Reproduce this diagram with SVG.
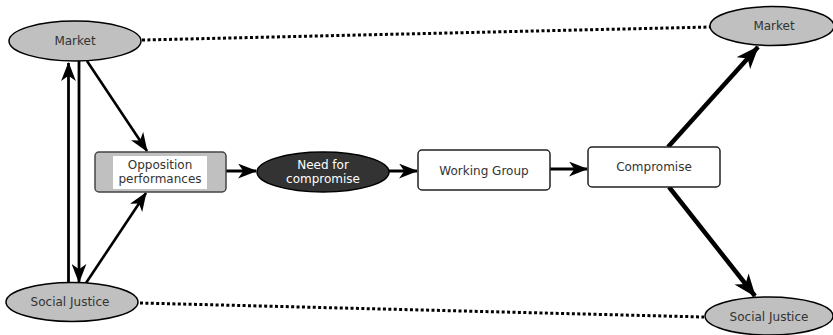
<svg xmlns="http://www.w3.org/2000/svg" width="833" height="335" viewBox="0 0 833 335">
<defs>
<marker id="ah" viewBox="0 0 18 14" refX="17" refY="7" markerWidth="19" markerHeight="15" orient="auto" markerUnits="userSpaceOnUse">
<path d="M0,0 L18,7 L0,14 L5,7 z" fill="#000"/>
</marker>
<marker id="ahs" viewBox="0 0 18 14" refX="17" refY="7" markerWidth="23" markerHeight="18" orient="auto" markerUnits="userSpaceOnUse">
<path d="M0,0 L18,7 L0,14 L5,7 z" fill="#000"/>
</marker>
<style>
text{font-family:"DejaVu Sans","Noto Sans",sans-serif;font-size:12px;fill:#333;text-anchor:middle;}
.grey{fill:#c0c0c0;stroke:#000;stroke-width:1.5;}
.box{fill:#fff;stroke:#222;stroke-width:1.5;}
.dot{stroke:#000;stroke-width:3;stroke-dasharray:3 2.4;fill:none;}
.a{stroke:#000;fill:none;}
</style>
</defs>
<g id="connectors">
<path class="dot" d="M142,40 L710,27"/>
<path class="dot" d="M140,303 L704,317"/>
<path class="a" stroke-width="2.8" d="M68.5,283 L68.5,63" marker-end="url(#ah)"/>
<path class="a" stroke-width="2.8" d="M79,61 L79,282" marker-end="url(#ah)"/>
<path class="a" stroke-width="2.6" d="M87,61 L147,151" marker-end="url(#ah)"/>
<path class="a" stroke-width="2.6" d="M86,283 L146,193" marker-end="url(#ah)"/>
<path class="a" stroke-width="3" d="M226,171 L256,171" marker-end="url(#ah)"/>
<path class="a" stroke-width="3" d="M389,171 L417,171" marker-end="url(#ah)"/>
<path class="a" stroke-width="3" d="M550,169 L587,169" marker-end="url(#ah)"/>
<path class="a" stroke-width="4.5" d="M668,147 L758,47" marker-end="url(#ahs)"/>
<path class="a" stroke-width="4.5" d="M669,187 L755,296" marker-end="url(#ahs)"/>
</g>
<g id="market-left">
<ellipse class="grey" cx="75" cy="41" rx="66" ry="20"/>
<text x="75" y="45">Market</text>
</g>
<g id="social-justice-left">
<ellipse class="grey" cx="72" cy="302" rx="66" ry="19.5"/>
<text x="70" y="306">Social Justice</text>
</g>
<g id="opposition">
<rect x="95" y="152" width="131" height="40" rx="4" fill="#c0c0c0" stroke="#444" stroke-width="1.5"/>
<rect x="113" y="156" width="94" height="33" fill="#fff"/>
<text x="160" y="169">Opposition</text>
<text x="160" y="183">performances</text>
</g>
<g id="need">
<ellipse cx="323" cy="172" rx="66" ry="20" fill="#333" stroke="#000" stroke-width="1.5"/>
<text x="323" y="169" style="fill:#fff">Need for</text>
<text x="323" y="183" style="fill:#fff">compromise</text>
</g>
<g id="working-group">
<rect class="box" x="418" y="150" width="132" height="40" rx="4"/>
<text x="484" y="175">Working Group</text>
</g>
<g id="compromise">
<rect class="box" x="588" y="147" width="132" height="40" rx="4"/>
<text x="654" y="171">Compromise</text>
</g>
<g id="market-right">
<ellipse class="grey" cx="772" cy="26" rx="62" ry="19.5"/>
<text x="774" y="30">Market</text>
</g>
<g id="social-justice-right">
<ellipse class="grey" cx="769" cy="316" rx="64" ry="19"/>
<text x="769" y="321">Social Justice</text>
</g>
</svg>
